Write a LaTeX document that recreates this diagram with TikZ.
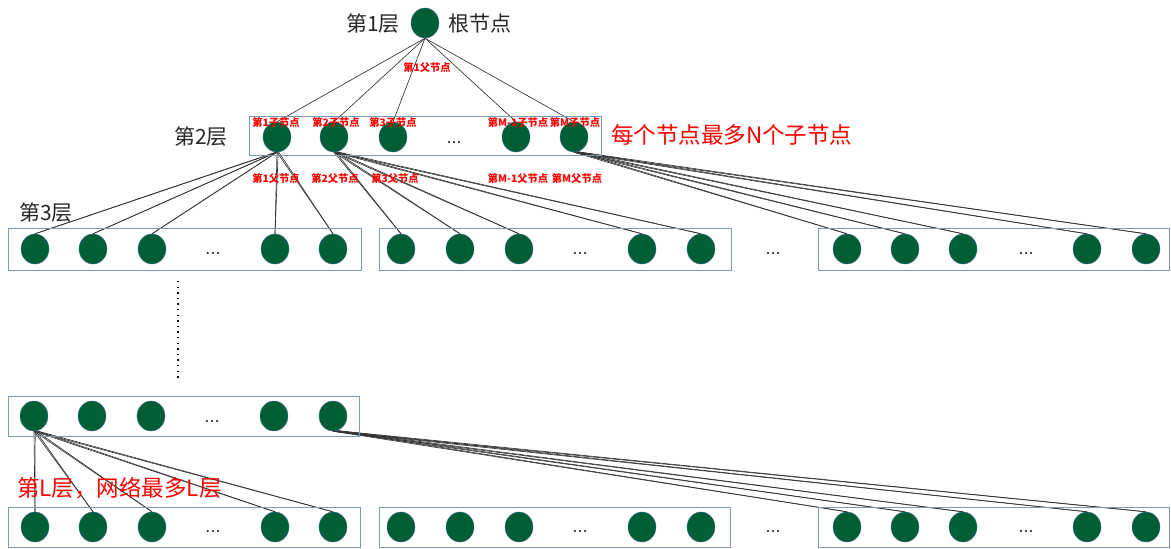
\documentclass[tikz,border=0pt]{standalone}
\usepackage{fontspec}
\newfontfamily\cjk{Noto Sans CJK SC}
\newfontfamily\lat{Liberation Sans}
\usetikzlibrary{shapes.geometric}
\definecolor{nodegreen}{RGB}{0,94,54}
\definecolor{nodeedge}{RGB}{70,110,150}
\definecolor{boxblue}{RGB}{124,152,186}
\definecolor{edgegray}{RGB}{50,50,50}
\pgfdeclarelayer{bg}
\pgfsetlayers{bg,main}
\tikzset{
  dotnode/.style={ellipse, fill=nodegreen, draw=nodeedge, line width=0.4pt, minimum width=28pt, minimum height=30pt, inner sep=0pt},
  layerbox/.style={draw=boxblue, line width=0.9pt, inner sep=0pt},
  link/.style={draw=edgegray, line width=0.65pt},
  lbl/.style={font=\cjk\fontsize{21}{25}\selectfont, text=black!85, inner sep=0pt},
  redbig/.style={font=\cjk\fontsize{22.5}{26}\selectfont, text=red, inner sep=0pt},
  tinyred/.style={font=\cjk\bfseries\fontsize{10.3}{12}\selectfont, text=red, inner sep=0pt},
  ell/.style={font=\lat\fontsize{18}{20}\selectfont, text=black!85, inner sep=0pt}
}
\begin{document}
\begin{tikzpicture}[x=1pt,y=-1pt]
\useasboundingbox (0,0) rectangle (1171,549);

% boxes
\node[layerbox, minimum width=352pt, minimum height=39pt] (box2) at (425,135.5) {};
\node[layerbox, minimum width=353pt, minimum height=42pt] (box31) at (184.5,249) {};
\node[layerbox, minimum width=352pt, minimum height=42pt] (box32) at (555,249) {};
\node[layerbox, minimum width=351pt, minimum height=42pt] (box33) at (993.5,249) {};
\node[layerbox, minimum width=351pt, minimum height=40pt] (boxd) at (183.5,416) {};
\node[layerbox, minimum width=352pt, minimum height=40pt] (boxe1) at (184,527) {};
\node[layerbox, minimum width=351pt, minimum height=40pt] (boxe2) at (554.5,527) {};
\node[layerbox, minimum width=351pt, minimum height=40pt] (boxe3) at (993.5,527) {};

% nodes
\node[dotnode] (root) at (425,23) {};
\foreach \x [count=\i] in {277,334,393,516,574} \node[dotnode] (b\i) at (\x,137) {};
\foreach \x [count=\i] in {35,93,152,275,333} {
  \node[dotnode] (c1-\i) at (\x,249) {};
  \node[dotnode] (e1-\i) at (\x,527) {};
}
\foreach \x [count=\i] in {34,92,151,274,333} \node[dotnode] (d\i) at (\x,416) {};
\foreach \x [count=\i] in {401,460,519,642,701} {
  \node[dotnode] (c2-\i) at (\x,249) {};
  \node[dotnode] (e2-\i) at (\x,527) {};
}
\foreach \x [count=\i] in {847,905,963,1087,1146} {
  \node[dotnode] (c3-\i) at (\x,249) {};
  \node[dotnode] (e3-\i) at (\x,527) {};
}

% ellipses
\node[ell] (el2) at (454,143) {...};
\node[ell] (el31) at (213,254) {...};
\node[ell] (el32) at (580,254) {...};
\node[ell] (el3m) at (773,254) {...};
\node[ell] (el33) at (1026,254) {...};
\node[ell] (eld) at (212,422) {...};
\node[ell] (ele1) at (213,532) {...};
\node[ell] (ele2) at (580,532) {...};
\node[ell] (elem) at (773,532) {...};
\node[ell] (ele3) at (1026,532) {...};

% edges
\begin{pgfonlayer}{bg}
\foreach \i in {1,...,5} \draw[link] (root.south) -- (b\i.north);
\foreach \i in {1,...,5} {
  \draw[link] (b1.south) -- (c1-\i.north);
  \draw[link] ([shift={(1.2,-0.8)}]b1.south) -- (c1-\i.north);
  \draw[link] (b2.south) -- (c2-\i.north);
  \draw[link] ([shift={(1.2,-0.8)}]b2.south) -- (c2-\i.north);
  \draw[link] (b5.south) -- (c3-\i.north);
  \draw[link] ([shift={(1.2,-0.8)}]b5.south) -- (c3-\i.north);
  \draw[link] (d1.south) -- (e1-\i.north);
  \draw[link] ([shift={(1.2,-0.8)}]d1.south) -- (e1-\i.north);
  \draw[link] (d5.south) -- (e3-\i.north);
  \draw[link] ([shift={(1.2,-0.8)}]d5.south) -- (e3-\i.north);
}
\end{pgfonlayer}

% dotted vertical
\coordinate (v1) at (178,281);
\coordinate (v2) at (178,380);
\draw[line width=1.4pt, dash pattern=on 1.4pt off 4.2pt] (v1) -- (v2);

% texts
\node[lbl] (t1) at (373,24) {第1层};
\node[lbl] (t1r) at (480,24) {根节点};
\node[lbl] (t2) at (201,137) {第2层};
\node[lbl] (t3) at (46,213) {第3层};
\node[redbig, anchor=west] (tn) at (611,135) {每个节点最多N个子节点};
\node[redbig, anchor=west] (tl) at (17,488) {第L层，网络最多L层};

\node[tinyred] (p0) at (427,68) {第1父节点};
\node[tinyred] (s1) at (276,123) {第1子节点};
\node[tinyred] (s2) at (336,123) {第2子节点};
\node[tinyred] (s3) at (393,123) {第3子节点};
\node[tinyred] (s4) at (518,123) {第M-1子节点};
\node[tinyred] (s5) at (575,123) {第M子节点};
\node[tinyred] (p1) at (276,179) {第1父节点};
\node[tinyred] (p2) at (335,179) {第2父节点};
\node[tinyred] (p3) at (395,179) {第3父节点};
\node[tinyred] (p4) at (518,179) {第M-1父节点};
\node[tinyred] (p5) at (577,179) {第M父节点};
\end{tikzpicture}
\end{document}
